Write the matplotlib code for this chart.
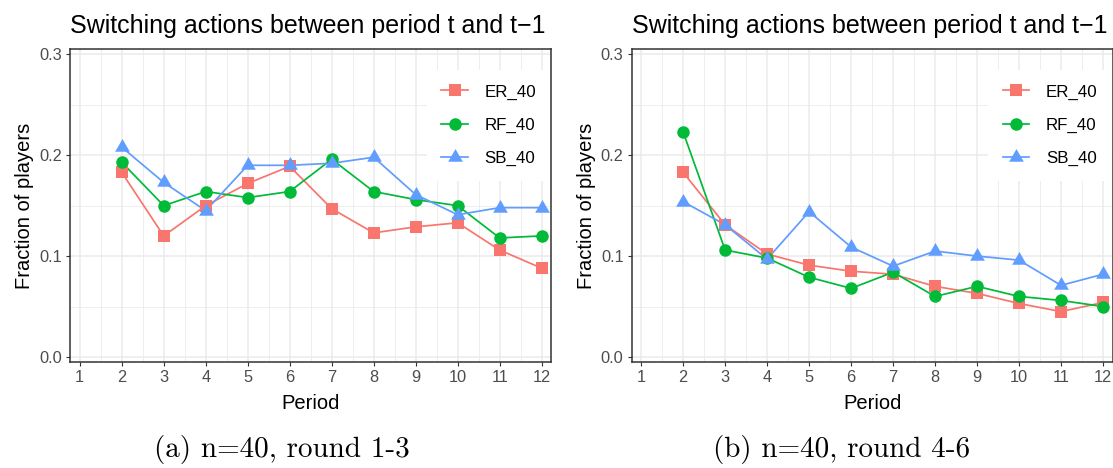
import matplotlib
matplotlib.use('Agg')
import matplotlib.pyplot as plt
from matplotlib.path import Path

# ---------------- data ----------------
periods = [2, 3, 4, 5, 6, 7, 8, 9, 10, 11, 12]
x_ticks = [1, 2, 3, 4, 5, 6, 7, 8, 9, 10, 11, 12]
y_ticks = [0.0, 0.1, 0.2, 0.3]
series_names = ['ER_40', 'RF_40', 'SB_40']

er_a = [0.183, 0.120, 0.150, 0.172, 0.189, 0.147, 0.123, 0.129, 0.133, 0.106, 0.088]
rf_a = [0.193, 0.150, 0.164, 0.158, 0.164, 0.196, 0.164, 0.156, 0.150, 0.118, 0.120]
sb_a = [0.208, 0.173, 0.145, 0.190, 0.190, 0.192, 0.198, 0.161, 0.141, 0.148, 0.148]

er_b = [0.183, 0.131, 0.102, 0.091, 0.085, 0.082, 0.070, 0.063, 0.053, 0.045, 0.054]
rf_b = [0.223, 0.106, 0.098, 0.079, 0.068, 0.084, 0.060, 0.070, 0.060, 0.056, 0.050]
sb_b = [0.154, 0.131, 0.097, 0.144, 0.109, 0.090, 0.105, 0.100, 0.096, 0.071, 0.082]

title_text = 'Switching actions between period t and t\u22121'
x_label = 'Period'
y_label = 'Fraction of players'
captions = ['(a) n=40, round 1-3', '(b) n=40, round 4-6']

# ---------------- style ----------------
plt.rcParams['font.family'] = ['Liberation Sans', 'DejaVu Sans']

colors = ['#F8766D', '#00BA38', '#619CFF']
tri = Path([(0, 1), (-0.866, -0.5), (0.866, -0.5), (0, 1)],
           [Path.MOVETO, Path.LINETO, Path.LINETO, Path.CLOSEPOLY])
markers = ['s', 'o', tri]
msizes = [9.2, 9.0, 12.2]

W, H = 1113, 468
fig = plt.figure(figsize=(W / 100, H / 100), dpi=100)

ax_w = 481 / W
ax_h = 312.7 / H
ax_b = (H - 362) / H
lefts = [70.3 / W, 631.7 / W]
cap_x = [282 / W, 842 / W]

panels = [(er_a, rf_a, sb_a), (er_b, rf_b, sb_b)]

for i, data in enumerate(panels):
    ax = fig.add_axes([lefts[i], ax_b, ax_w, ax_h])
    ax.set_xlim(0.775, 12.23)
    ax.set_ylim(-0.005, 0.305)
    ax.set_xticks(x_ticks)
    ax.set_xticks([v + 0.5 for v in x_ticks[:-1]], minor=True)
    ax.set_yticks(y_ticks)
    ax.set_yticks([0.05, 0.15, 0.25], minor=True)
    ax.set_yticklabels(['%.1f' % v for v in y_ticks])
    ax.grid(which='major', color='#EBEBEB', linewidth=1.1, zorder=0)
    ax.grid(which='minor', color='#EBEBEB', linewidth=0.6, zorder=0)
    ax.set_axisbelow(True)
    for s in ax.spines.values():
        s.set_color('#333333')
        s.set_linewidth(1.1)
        s.set_zorder(5)
    ax.tick_params(which='major', length=2.9, width=0.8, color='#333333',
                   labelcolor='#4D4D4D', labelsize=11.8, pad=3.0)
    ax.tick_params(which='minor', length=0)

    handles = []
    for j, vals in enumerate(data):
        ax.plot(periods, vals, color=colors[j], linewidth=1.25, zorder=2)
    for j, vals in enumerate(data):
        ax.plot(periods, vals, linestyle='none', marker=markers[j],
                markersize=msizes[j], markeredgewidth=0, color=colors[j],
                zorder=3 + j * 0.1, clip_on=False)
        h, = ax.plot([], [], color=colors[j], linewidth=1.25, marker=markers[j],
                     markersize=msizes[j], markeredgewidth=0)
        handles.append(h)

    leg = ax.legend(handles, series_names, loc='upper left',
                    bbox_to_anchor=((427 - 70.3) / 481, (362 - 70) / 312.7),
                    fontsize=12.2, frameon=True, facecolor='white',
                    edgecolor='none', framealpha=1, fancybox=False,
                    borderpad=0.85, labelspacing=1.08, handlelength=1.55,
                    handletextpad=1.0, borderaxespad=0, numpoints=1)
    leg.set_zorder(4)

    ax.set_xlabel(x_label, fontsize=14.5, labelpad=6.5)
    ax.set_ylabel(y_label, fontsize=14.5, labelpad=3.5)
    ax.set_title(title_text, loc='left', fontsize=18.0, pad=11.5)

    fig.text(cap_x[i], 1 - 457 / H, captions[i], fontfamily='cmr10',
             fontsize=21, ha='center', va='baseline')

fig.savefig('out.png', dpi=100)
